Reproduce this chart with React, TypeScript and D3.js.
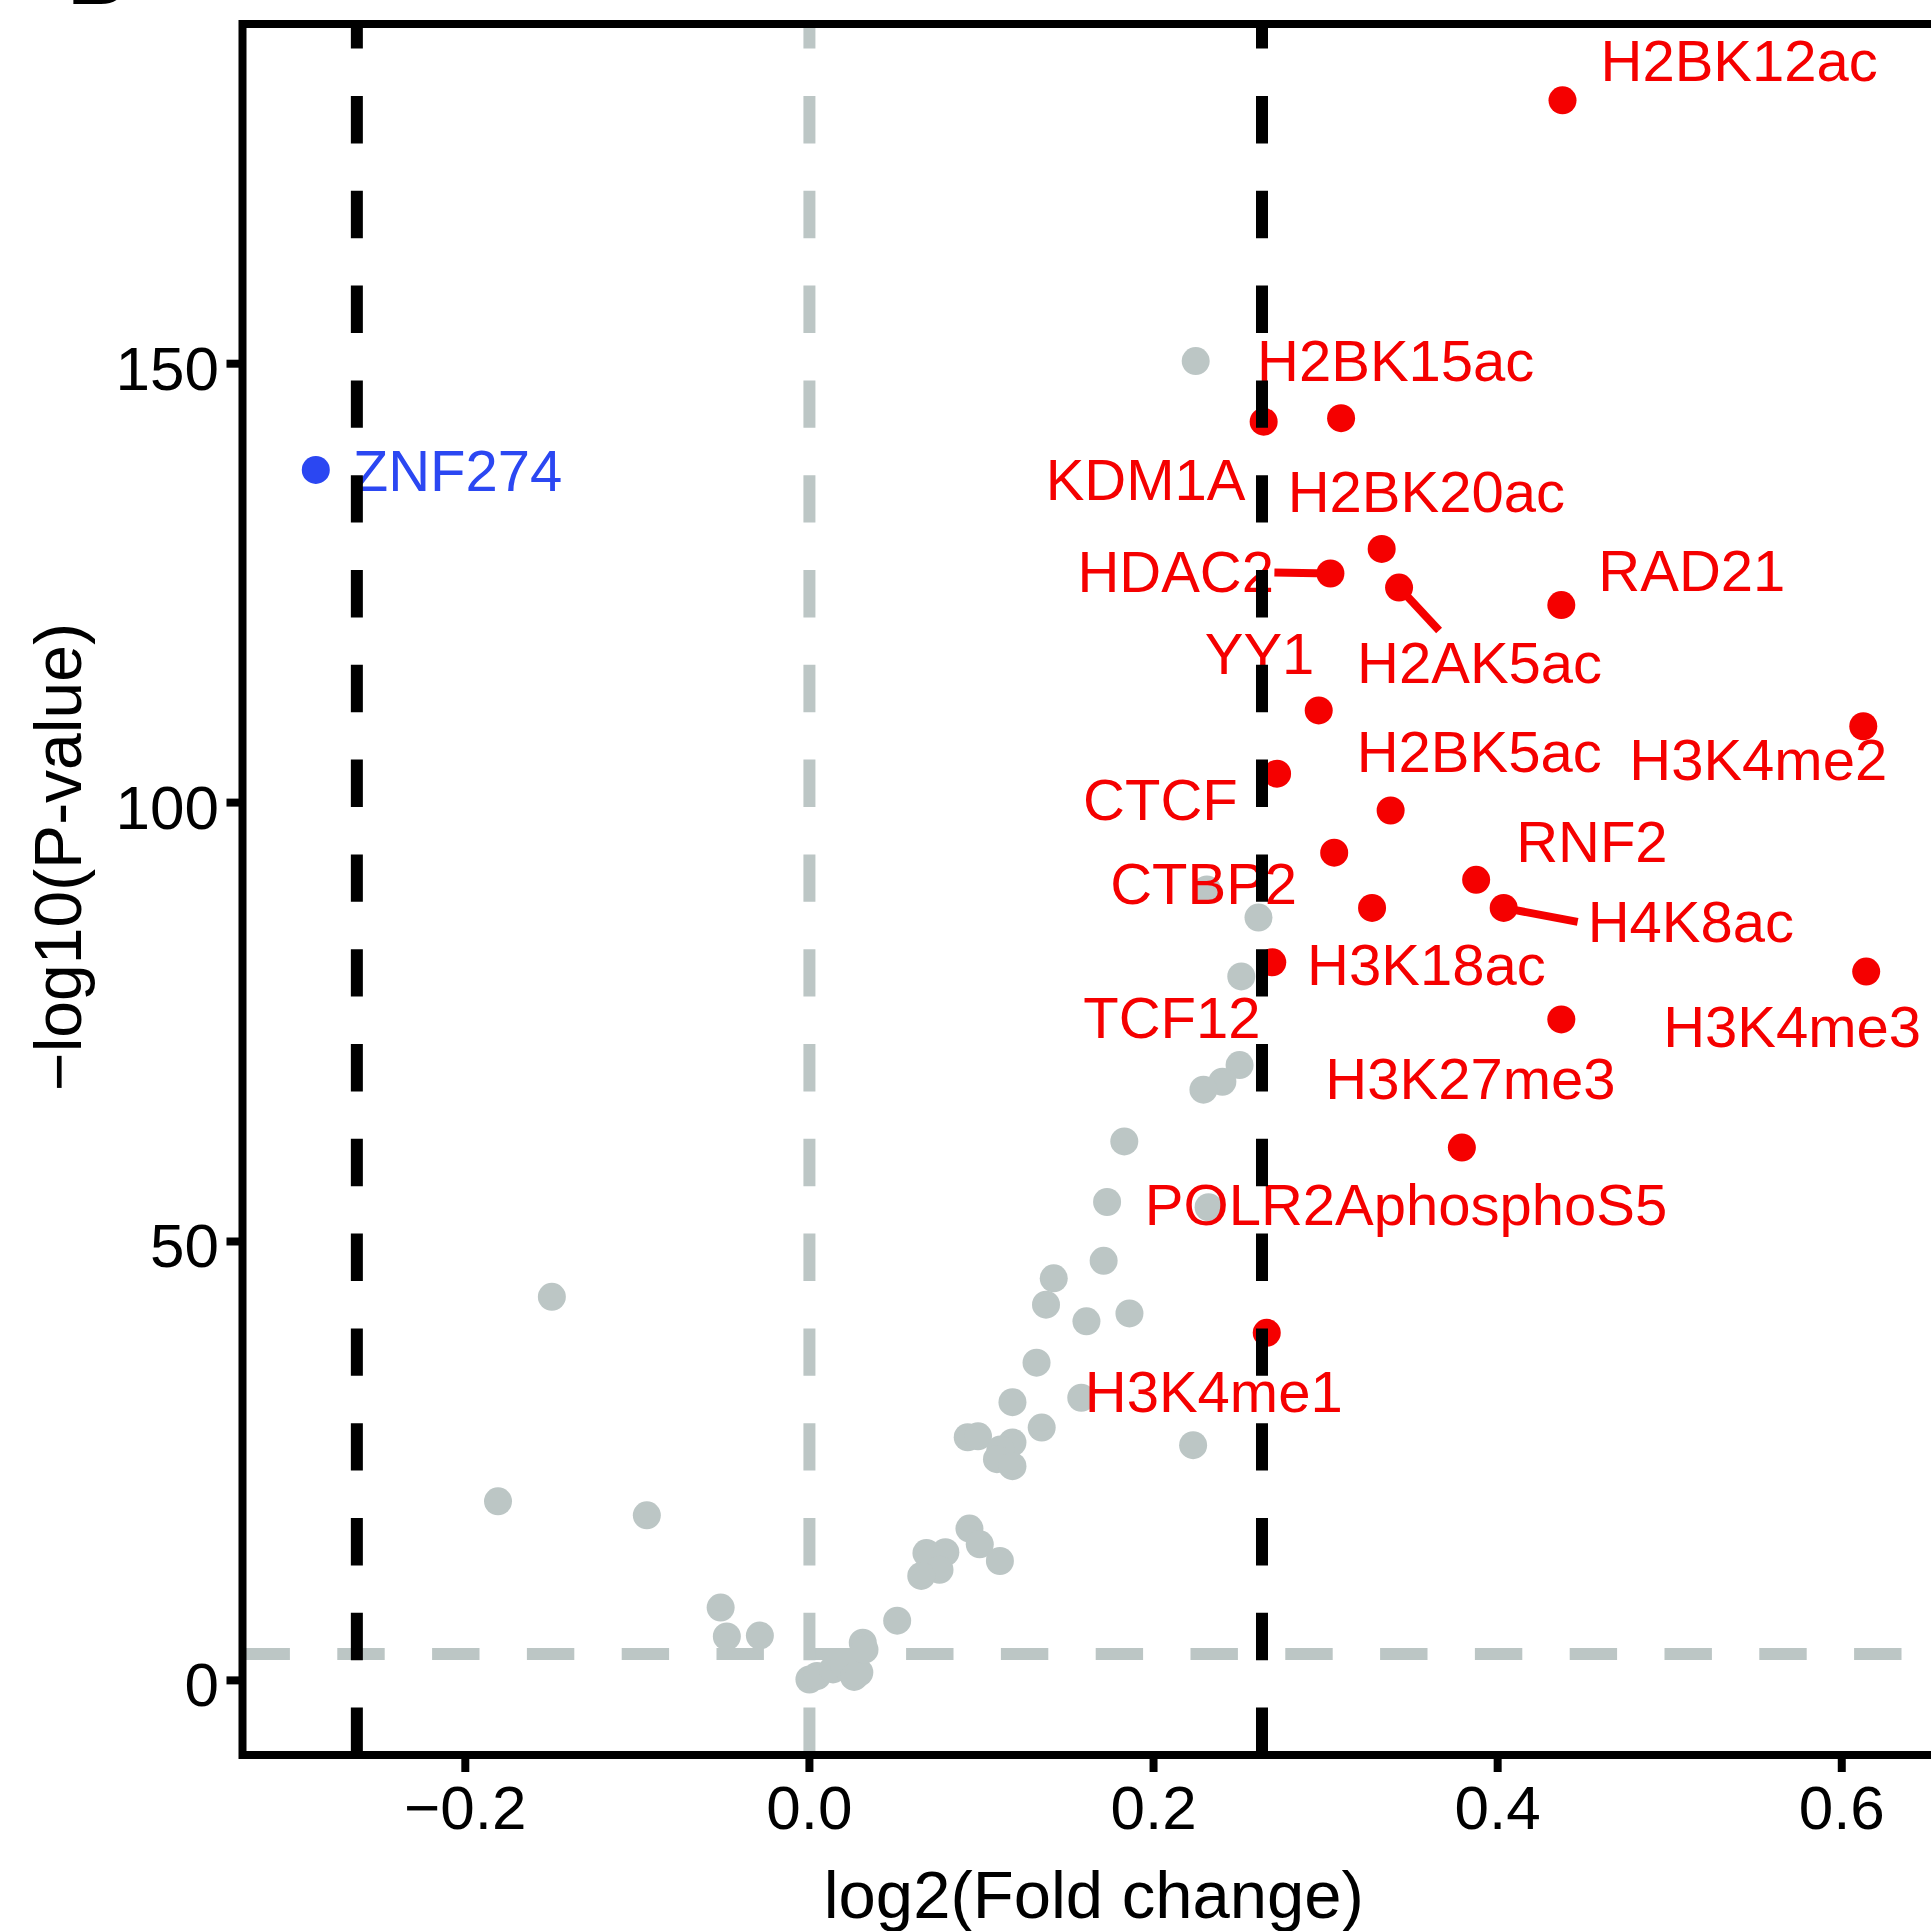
import React from "react"
import { scaleLinear } from "d3"

// volcano plot: log2 fold change vs -log10 p

// not significant marks (grey)
const greyFC = [
  0.2245, 0.231, 0.261, 0.251, 0.25, 0.24, 0.229, 0.183, 0.173, 0.232,
  0.171, 0.142, 0.1375, 0.186, 0.161, 0.132, 0.158, 0.118, 0.135, 0.223,
  0.092, 0.098, 0.118, 0.111, 0.109, 0.118,
  0.093, 0.099, 0.079, 0.068, 0.1107, 0.0756, 0.065, 0.051,
  -0.1497, -0.181, -0.0945, -0.0516, -0.048, -0.0288,
  0.0, 0.0044, 0.0137, 0.02, 0.026, 0.029, 0.031, 0.032
]
const greyLogP = [
  150.3, 90.1, 86.9, 80.2, 70.1, 68.2, 67.3, 61.4, 54.5, 53.9,
  47.8, 45.8, 42.8, 41.8, 40.9, 36.2, 32.2, 31.7, 28.8, 26.8,
  27.7, 27.8, 27.1, 26.3, 25.2, 24.4,
  17.3, 15.5, 14.6, 14.5, 13.6, 12.6, 11.9, 6.8,
  43.7, 20.4, 18.8, 8.3, 5.0, 5.1,
  0.1, 0.5, 1.25, 1.8, 0.4, 0.9, 4.3, 3.5
]

// enriched (red)
const upNames = [
  "H2BK12ac", "H2BK15ac", "KDM1A", "H2BK20ac", "HDAC2", "H2AK5ac", "RAD21",
  "YY1", "H3K4me2", "CTCF", "H2BK5ac", "CTBP2", "RNF2", "H4K8ac", "H3K18ac",
  "TCF12", "H3K4me3", "H3K27me3", "POLR2AphosphoS5", "H3K4me1"
]
const upFC = [
  0.4377, 0.309, 0.264, 0.3326, 0.3028, 0.3427, 0.437,
  0.296, 0.6125, 0.2718, 0.3378, 0.305, 0.3875, 0.4035, 0.327,
  0.269, 0.6142, 0.437, 0.3792, 0.2658
]
const upLogP = [
  180.0, 143.8, 143.4, 128.9, 126.1, 124.5, 122.5,
  110.5, 108.7, 103.3, 99.1, 94.3, 91.2, 88.0, 88.0,
  81.8, 80.75, 75.3, 60.7, 39.6
]

// depleted (blue)
const downNames = ["ZNF274"]
const downFC = [-0.2869]
const downLogP = [137.9]

const xTicks = [-0.2, 0, 0.2, 0.4, 0.6]
const xTickLabels = ["\u22120.2", "0.0", "0.2", "0.4", "0.6"]
const yTicks = [0, 50, 100, 150]

const fcCut = Math.log2(1.2)
const pCut = 3

// where ggrepel left each label: offset (px) of label start / baseline from its point
const upLabelOffset = [
  [38, -19], [-84, -37], [-218, 78], [-94, -37], [-253, 19], [-42, 95], [37, -14],
  [-114, -36], [-234, 54], [-194, 46], [-34, -38], [-224, 51], [40, -18], [84, 34], [-65, 77],
  [-189, 76], [-203, 75], [-236, 80], [-317, 77], [-182, 79]
]
const downLabelOffset = [[37, 21]]
// connector segments (end offset from point)
const segments: Record<string, number[]> = {
  HDAC2: [-56, -1],
  H2AK5ac: [40, 43],
  H4K8ac: [74, 14]
}

const font = "'Liberation Sans', Arimo, Arial, Helvetica, sans-serif"
const red = "#f50000"
const blue = "#2b47f2"
const grey = "#bcc6c5"

export default function App() {
  const left = 242.5
  const right = 1945
  const top = 24
  const bottom = 1755

  const x = scaleLinear().domain([-0.3295, 0.66]).range([left, right])
  const y = scaleLinear().domain([-8.5, 188.7]).range([bottom, top])

  const r = 14
  const dash = "47.4 47.4"

  return (
    <svg
      width={1931}
      height={1931}
      style={{ position: "absolute", left: 0, top: 0, background: "#fff" }}
      fontFamily={font}
    >
      <rect x={0} y={0} width={1931} height={1931} fill="#fff" />
      {/* panel letter, cropped at the top edge as in the source figure */}
      <text x={68} y={4} fontSize={80} fontWeight="bold">B</text>

      <defs>
        <clipPath id="panel">
          <rect x={left} y={top} width={right - left} height={bottom - top} />
        </clipPath>
      </defs>

      <g clipPath="url(#panel)">
        {greyFC.map((d, i) => (
          <circle key={"g" + i} cx={x(d)} cy={y(greyLogP[i])} r={r} fill={grey} />
        ))}
        {upFC.map((d, i) => (
          <circle key={"u" + i} cx={x(d)} cy={y(upLogP[i])} r={r} fill={red} />
        ))}
        {downFC.map((d, i) => (
          <circle key={"d" + i} cx={x(d)} cy={y(downLogP[i])} r={r} fill={blue} />
        ))}

        {upNames.map((n, i) => {
          const s = segments[n]
          if (!s) return null
          const px = x(upFC[i])
          const py = y(upLogP[i])
          return (
            <line key={"s" + n} x1={px} y1={py} x2={px + s[0]} y2={py + s[1]}
              stroke={red} strokeWidth={8} />
          )
        })}

        {upNames.map((n, i) => (
          <text key={"t" + n} x={x(upFC[i]) + upLabelOffset[i][0]} y={y(upLogP[i]) + upLabelOffset[i][1]}
            fontSize={58} fill={red}>{n}</text>
        ))}
        {downNames.map((n, i) => (
          <text key={"tb" + n} x={x(downFC[i]) + downLabelOffset[i][0]} y={y(downLogP[i]) + downLabelOffset[i][1]}
            fontSize={58} fill={blue}>{n}</text>
        ))}

        <line x1={left} x2={right} y1={y(pCut)} y2={y(pCut)} stroke={grey} strokeWidth={12} strokeDasharray={dash} />
        <line x1={x(0)} x2={x(0)} y1={bottom} y2={top} stroke={grey} strokeWidth={12} strokeDasharray={dash} />
        {[-fcCut, fcCut].map((v) => (
          <line key={"v" + v} x1={x(v)} x2={x(v)} y1={bottom} y2={top} stroke="#000" strokeWidth={12} strokeDasharray={dash} />
        ))}
      </g>

      <rect x={left} y={top} width={right - left} height={bottom - top} fill="none" stroke="#000" strokeWidth={8} />

      {xTicks.map((t, i) => (
        <g key={"xt" + i}>
          <line x1={x(t)} x2={x(t)} y1={bottom} y2={bottom + 17} stroke="#000" strokeWidth={8} />
          <text x={x(t)} y={1829} fontSize={62} textAnchor="middle">{xTickLabels[i]}</text>
        </g>
      ))}
      {yTicks.map((t) => (
        <g key={"yt" + t}>
          <line x1={left - 16} x2={left} y1={y(t)} y2={y(t)} stroke="#000" strokeWidth={8} />
          <text x={219} y={y(t) + 26} fontSize={62} textAnchor="end">{t}</text>
        </g>
      ))}

      <text x={(left + right) / 2} y={1918} fontSize={67} textAnchor="middle">log2(Fold change)</text>
      <text transform="translate(81,857) rotate(-90)" fontSize={66} textAnchor="middle">{"\u2212log10(P-value)"}</text>
    </svg>
  )
}
